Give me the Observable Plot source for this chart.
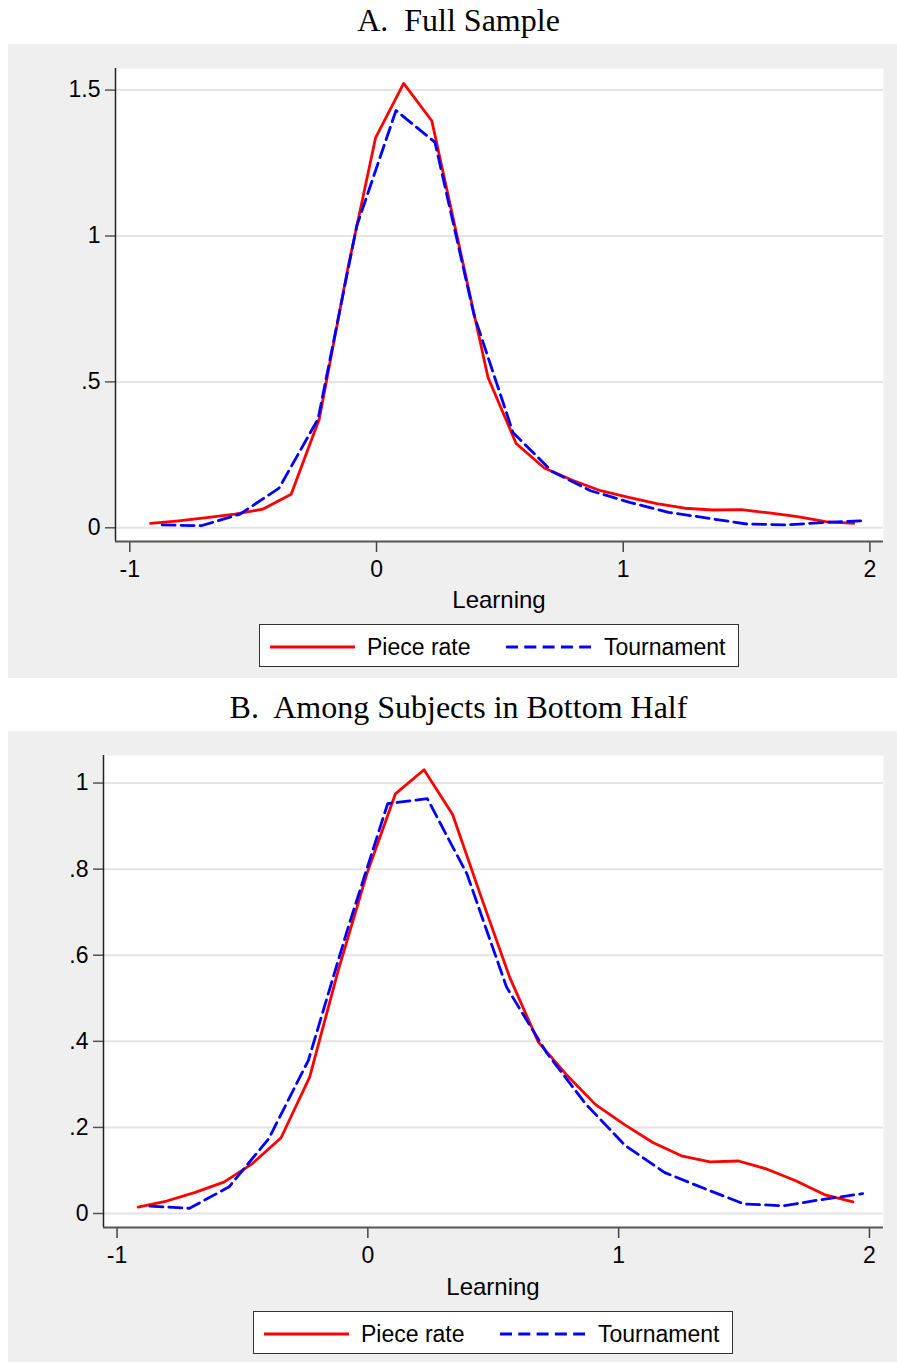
<!DOCTYPE html>
<html>
<head>
<meta charset="utf-8">
<script src="https://cdn.jsdelivr.net/npm/d3@7"></script>
<script src="https://cdn.jsdelivr.net/npm/@observablehq/plot@0.6"></script>
<style>
  body { margin: 0; background: #fff; width: 897px; height: 1363px; position: relative; overflow: hidden;
         font-family: "Liberation Sans", Arial, sans-serif; }
  .title { position: absolute; left: 0; width: 917px; text-align: center; color: #000;
           font-family: "Liberation Serif", "Times New Roman", serif; font-size: 32px; line-height: 32px; white-space: pre; }
  .panel { position: absolute; left: 8px; width: 889px; background: #efefef; }
  .panel svg { position: absolute; left: 0; top: 0; display: block; }
  .xlabel { position: absolute; text-align: center; font-size: 24px; line-height: 24px; color: #000; }
  .legend { position: absolute; width: 478px; height: 41px; border: 1px solid #333; background: #fff; }
  .legend span { position: absolute; top: 2px; font-size: 23px; line-height: 41px; color: #000; white-space: pre; }
  .legend svg { position: absolute; top: 0; left: 0; }
</style>
</head>
<body>
<div class="title" style="top:4px">A.  Full Sample</div>
<div class="panel" id="panelA" style="top:44px;height:634px"></div>
<div class="title" style="top:691px">B.  Among Subjects in Bottom Half</div>
<div class="panel" id="panelB" style="top:731px;height:631px"></div>
<script>
// ---- data (kernel density estimates of "Learning") ----
const seriesNames = ["Piece rate", "Tournament"];
const seriesColors = ["#ff0000", "#0000ff"];

// evaluation points
const pieceX = [-0.916, -0.802, -0.688, -0.574, -0.460, -0.346, -0.232, -0.118, -0.004, 0.110, 0.224, 0.338, 0.452,
                0.566, 0.680, 0.794, 0.908, 1.022, 1.136, 1.250, 1.364, 1.478, 1.592, 1.706, 1.820, 1.934];
const tournX = [-0.869, -0.711, -0.553, -0.395, -0.237, -0.080, 0.079, 0.237, 0.395, 0.553, 0.711, 0.868, 1.026,
                1.184, 1.342, 1.500, 1.658, 1.816, 1.973];

// Panel A: Full sample
const pieceA = [0.015, 0.024, 0.035, 0.047, 0.064, 0.115, 0.373, 0.882, 1.336, 1.523, 1.395, 0.955, 0.515,
                0.289, 0.205, 0.163, 0.127, 0.104, 0.083, 0.067, 0.061, 0.062, 0.051, 0.038, 0.021, 0.015];
const tournA = [0.010, 0.007, 0.047, 0.136, 0.373, 1.035, 1.430, 1.321, 0.730, 0.327, 0.193, 0.127, 0.087,
                0.053, 0.033, 0.013, 0.010, 0.018, 0.024];

// Panel B: Among subjects in bottom half
const pieceB = [0.015, 0.029, 0.049, 0.073, 0.116, 0.176, 0.317, 0.565, 0.789, 0.975, 1.031, 0.927, 0.735,
                0.548, 0.398, 0.321, 0.253, 0.207, 0.165, 0.134, 0.120, 0.122, 0.103, 0.076, 0.044, 0.027];
const tournB = [0.017, 0.012, 0.062, 0.174, 0.356, 0.662, 0.952, 0.964, 0.789, 0.526, 0.375, 0.255, 0.158,
                0.095, 0.058, 0.022, 0.018, 0.033, 0.046];

// ticks
const xTicks = [-1, 0, 1, 2];
const xTickLabels = ["-1", "0", "1", "2"];
const yTicksA = [0, 0.5, 1, 1.5];
const yTickLabelsA = ["0", ".5", "1", "1.5"];
const yTicksB = [0, 0.2, 0.4, 0.6, 0.8, 1];
const yTickLabelsB = ["0", ".2", ".4", ".6", ".8", "1"];
const xLabel = "Learning";

function drawPanel(el, cfg) {
  const piece = pieceX.map((x, i) => ({x, y: cfg.piece[i]}));
  const tourn = tournX.map((x, i) => ({x, y: cfg.tourn[i]}));
  const svg = Plot.plot({
    width: 889,
    height: 540,
    marginLeft: cfg.marginLeft,
    marginRight: 14,
    marginTop: 24,
    marginBottom: cfg.marginBottom,
    style: {background: "transparent", fontFamily: "'Liberation Sans', Arial, sans-serif", fontSize: "23px", color: "#000", overflow: "visible"},
    x: {domain: cfg.xDomain},
    y: {domain: cfg.yDomain},
    marks: [
      Plot.frame({fill: "white", stroke: null}),
      Plot.gridY(cfg.yTicks, {stroke: "#e4e4e4", strokeWidth: 2, strokeOpacity: 1}),
      Plot.axisY(cfg.yTicks, {anchor: "left", tickSize: 10, tickPadding: 5, label: null,
        tickFormat: d => cfg.yLabels[cfg.yTicks.indexOf(d)], stroke: "#555", strokeWidth: 1.5}),
      Plot.axisX(xTicks, {anchor: "bottom", tickSize: 11, tickPadding: 8, label: null,
        tickFormat: d => xTickLabels[xTicks.indexOf(d)], stroke: "#444", strokeWidth: 1.5}),
      Plot.ruleX([cfg.xDomain[0]], {stroke: "#222", strokeWidth: 1.5}),
      Plot.ruleY([cfg.yDomain[0]], {stroke: "#555", strokeWidth: 2}),
      Plot.line(piece, {x: "x", y: "y", stroke: seriesColors[0], strokeWidth: 2.8}),
      Plot.line(tourn, {x: "x", y: "y", stroke: seriesColors[1], strokeWidth: 2.8, strokeDasharray: "13,6"})
    ]
  });
  el.appendChild(svg);

  const plotLeft = cfg.marginLeft, plotRight = 889 - 14, plotW = plotRight - plotLeft;
  const lab = document.createElement("div");
  lab.className = "xlabel";
  lab.style.left = plotLeft + "px";
  lab.style.width = plotW + "px";
  lab.style.top = "544px";
  lab.textContent = xLabel;
  el.appendChild(lab);

  const leg = document.createElement("div");
  leg.className = "legend";
  leg.style.left = (plotLeft + plotW / 2 - 240) + "px";
  leg.style.top = "580px";
  leg.innerHTML =
    `<svg width="478" height="41">
       <line x1="10" x2="95" y1="22" y2="22" stroke="${seriesColors[0]}" stroke-width="2.8"/>
       <line x1="246" x2="331" y1="22" y2="22" stroke="${seriesColors[1]}" stroke-width="2.8" stroke-dasharray="12,6.3"/>
     </svg>
     <span style="left:107px">${seriesNames[0]}</span>
     <span style="left:344px">${seriesNames[1]}</span>`;
  el.appendChild(leg);
}

drawPanel(document.getElementById("panelA"), {
  piece: pieceA, tourn: tournA,
  xDomain: [-1.058, 2.055], yDomain: [-0.047, 1.574],
  yTicks: yTicksA, yLabels: yTickLabelsA,
  marginLeft: 107, marginBottom: 43
});
drawPanel(document.getElementById("panelB"), {
  piece: pieceB, tourn: tournB,
  xDomain: [-1.054, 2.056], yDomain: [-0.0325, 1.064],
  yTicks: yTicksB, yLabels: yTickLabelsB,
  marginLeft: 95, marginBottom: 44
});
</script>
</body>
</html>
